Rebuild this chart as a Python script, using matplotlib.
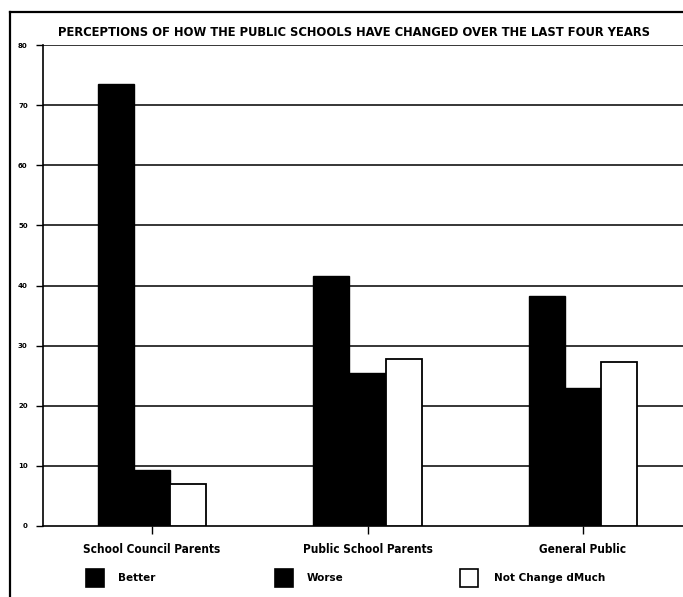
import matplotlib.pyplot as plt
from matplotlib.patches import Rectangle
from matplotlib.lines import Line2D
import numpy as np

# ==================== data ====================
groups = ['School Council Parents', 'Public School Parents', 'General Public']
series = ['Better', 'Worse', 'Not Change dMuch']
better = [73.5, 41.5, 38.3]
worse = [9.3, 25.5, 23.0]
not_much = [7.0, 27.7, 27.2]
yticks = [0, 10, 20, 30, 40, 50, 60, 70, 80]

title = 'PERCEPTIONS OF HOW THE PUBLIC SCHOOLS HAVE CHANGED OVER THE LAST FOUR YEARS'

# ==================== figure ====================
W, H = 683, 597
fig = plt.figure(figsize=(W / 100, H / 100), dpi=100)

def fx(px):
    return px / W

def fy(py):
    return 1 - py / H

ax = fig.add_axes([fx(43), fy(526), 1 - fx(43), fy(45) - fy(526)])

x = np.arange(len(groups))
bw = 0.168
ax.bar(x - bw, better, bw, color='black', edgecolor='black', linewidth=1, zorder=3)
ax.bar(x, worse, bw, color='black', edgecolor='black', linewidth=1, zorder=3)
ax.bar(x + bw, not_much, bw, color='white', edgecolor='black', linewidth=1.3, zorder=3)

ax.set_xlim(-0.506, 2.464)
ax.set_ylim(0, 80)
ax.set_yticks(yticks)
ax.set_yticklabels([str(v) for v in yticks], fontsize=5, fontweight='bold')
ax.set_xticks(x)
ax.set_xticklabels(groups, fontsize=8.5, fontweight='semibold', fontstretch='condensed')
ax.tick_params(axis='y', length=5, width=1, pad=6, direction='out')
ax.tick_params(axis='x', length=6, width=1, pad=6, direction='out')

for v in yticks[1:]:
    ax.axhline(v, color='black', linewidth=1.1, zorder=1)

for s in ['top', 'right']:
    ax.spines[s].set_visible(False)
ax.spines['left'].set_linewidth(1.2)
ax.spines['bottom'].set_linewidth(1.2)

# outer frame
fig.add_artist(Line2D([fx(10), fx(10)], [fy(12), 0], color='black', linewidth=1.6))
fig.add_artist(Line2D([fx(10), 1], [fy(12), fy(12)], color='black', linewidth=1.6))

fig.text(fx(354), fy(33), title, ha='center', va='center',
         fontsize=9.3, fontweight='bold', fontstretch='condensed')

# legend
leg_x = [86, 275, 460]
txt_x = [118, 307, 494]
fills = ['black', 'black', 'white']
for lx, tx, fc, name in zip(leg_x, txt_x, fills, series):
    fig.add_artist(Rectangle((fx(lx), fy(587)), fx(18), fy(569) - fy(587),
                             facecolor=fc, edgecolor='black', linewidth=1.2))
    fig.text(fx(tx), fy(578), name, ha='left', va='center', fontsize=7.5, fontweight='bold')

plt.savefig('out.png', dpi=100)
plt.close()
